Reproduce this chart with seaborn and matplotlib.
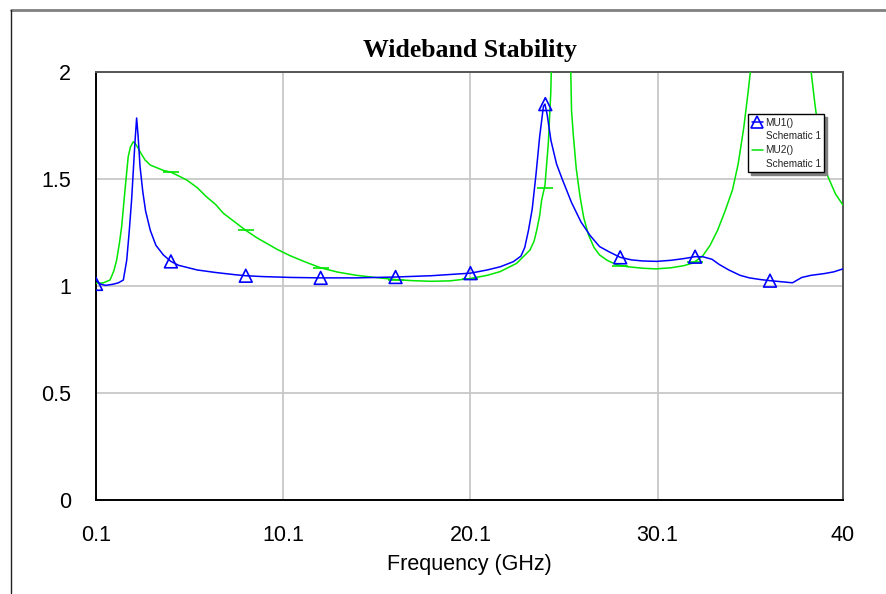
import matplotlib
matplotlib.use("Agg")
import matplotlib.pyplot as plt
from matplotlib.lines import Line2D
import pandas as pd
import seaborn as sns

# ---- sweep data (GHz, stability factor) ----
mu1_freq = [0.1, 0.3, 0.6, 1.0, 1.3, 1.56, 1.74, 1.87, 2.0, 2.1, 2.18, 2.27, 2.35,
            2.45, 2.6, 2.75, 3.0, 3.3, 3.7, 4.1, 4.5, 5.5, 6.5, 7.5, 8.1, 9.0, 10.5,
            12.1, 14.0, 16.1, 18.0, 20.1, 21.0, 21.7, 22.4, 22.8, 23.0, 23.2, 23.4,
            23.6, 23.8, 24.0, 24.08, 24.2, 24.4, 24.7, 25.0, 25.5, 26.0, 26.5, 27.0,
            27.5, 28.1, 28.7, 29.3, 30.05, 30.8, 31.5, 32.1, 32.5, 33.0, 33.4, 33.9,
            34.5, 35.0, 35.6, 36.1, 36.7, 37.3, 37.5, 37.8, 38.3, 39.0, 39.5, 40.0]
mu1_vals = [1.03, 1.01, 1.003, 1.008, 1.015, 1.028, 1.12, 1.25, 1.40, 1.55, 1.67,
            1.785, 1.70, 1.56, 1.44, 1.35, 1.26, 1.19, 1.145, 1.115, 1.097, 1.075,
            1.063, 1.053, 1.048, 1.044, 1.04, 1.038, 1.038, 1.042, 1.048, 1.06, 1.075,
            1.09, 1.114, 1.14, 1.18, 1.26, 1.36, 1.52, 1.70, 1.84, 1.85, 1.80, 1.68,
            1.57, 1.50, 1.39, 1.30, 1.235, 1.184, 1.16, 1.134, 1.122, 1.117, 1.115,
            1.12, 1.128, 1.137, 1.137, 1.125, 1.10, 1.075, 1.05, 1.038, 1.03, 1.025,
            1.02, 1.015, 1.025, 1.04, 1.05, 1.058, 1.066, 1.08]

mu2_freq = [0.1, 0.5, 0.85, 1.05, 1.2, 1.35, 1.47, 1.65, 1.82, 1.94, 2.09, 2.2, 2.36,
            2.5, 2.72, 3.0, 3.34, 3.7, 4.1, 4.5, 4.95, 5.5, 6.0, 6.5, 6.9, 7.5, 8.1,
            8.7, 9.2, 9.8, 10.46, 11.2, 12.1, 13.0, 14.0, 15.0, 16.1, 17.0, 18.0,
            19.0, 20.1, 21.0, 21.68, 22.57, 23.28, 23.5, 23.64, 23.8, 23.9, 24.08,
            24.26, 24.39, 24.55, 24.95, 25.35, 25.5, 25.6, 25.75, 25.95, 26.15, 26.4,
            26.7, 27.0, 27.4, 27.9, 28.5, 29.3, 30.0, 30.8, 31.5, 32.0, 32.5, 32.9,
            33.3, 33.7, 34.1, 34.4, 34.7, 34.95, 35.3, 36.7, 38.15, 38.3, 38.5, 38.7,
            38.9, 39.2, 39.6, 40.0]
mu2_vals = [1.012, 1.015, 1.028, 1.07, 1.12, 1.2, 1.277, 1.45, 1.604, 1.65, 1.674,
            1.665, 1.643, 1.62, 1.589, 1.565, 1.553, 1.54, 1.532, 1.515, 1.495, 1.46,
            1.417, 1.38, 1.34, 1.30, 1.26, 1.225, 1.2, 1.17, 1.142, 1.115, 1.085,
            1.065, 1.05, 1.04, 1.03, 1.025, 1.022, 1.024, 1.035, 1.05, 1.067, 1.106,
            1.168, 1.21, 1.26, 1.33, 1.40, 1.47, 1.667, 1.9, 2.5, 4.0, 2.5, 1.82, 1.70,
            1.55, 1.42, 1.32, 1.24, 1.18, 1.145, 1.12, 1.10, 1.09, 1.083, 1.08, 1.085,
            1.095, 1.108, 1.14, 1.19, 1.26, 1.35, 1.45, 1.57, 1.74, 1.92, 2.2, 3.5,
            2.2, 2.0, 1.85, 1.72, 1.61, 1.51, 1.43, 1.378]

# marker positions along each trace
mu1_mark_freq = [0.1, 4.1, 8.1, 12.1, 16.1, 20.1, 24.1, 28.1, 32.1, 36.1]
mu1_mark_vals = [1.01, 1.115, 1.048, 1.038, 1.042, 1.06, 1.85, 1.134, 1.137, 1.025]
mu2_mark_freq = [4.1, 8.1, 12.1, 16.1, 20.1, 24.1, 28.1, 32.1]
mu2_mark_vals = [1.532, 1.26, 1.085, 1.03, 1.035, 1.46, 1.092, 1.114]

x_ticks = [0.1, 10.1, 20.1, 30.1, 40]
x_tick_labels = ["0.1", "10.1", "20.1", "30.1", "40"]
y_ticks = [0, 0.5, 1, 1.5, 2]
y_tick_labels = ["0", "0.5", "1", "1.5", "2"]

BLUE = "#0000ff"
GREEN = "#00e600"

sns.set_theme(style="white")
plt.rcParams["font.family"] = ["Liberation Sans", "DejaVu Sans"]

fig = plt.figure(figsize=(8.86, 5.94), dpi=100)
ax = fig.add_axes([96 / 886, 94 / 594, (843 - 96) / 886, (500 - 72) / 594])

mu1 = pd.DataFrame({"f": mu1_freq, "mu": mu1_vals})
mu2 = pd.DataFrame({"f": mu2_freq, "mu": mu2_vals})
mk1 = pd.DataFrame({"f": mu1_mark_freq, "mu": mu1_mark_vals})
mk2 = pd.DataFrame({"f": mu2_mark_freq, "mu": mu2_mark_vals})

sns.lineplot(data=mu2, x="f", y="mu", ax=ax, color=GREEN, lw=1.1, sort=False,
             estimator=None, zorder=3)
sns.lineplot(data=mu1, x="f", y="mu", ax=ax, color=BLUE, lw=1.1, sort=False,
             estimator=None, zorder=4)
sns.scatterplot(data=mk2, x="f", y="mu", ax=ax, marker="_", s=130, color=GREEN,
                linewidth=1.2, zorder=5)
sns.scatterplot(data=mk1, x="f", y="mu", ax=ax, marker="^", s=85,
                facecolors="none", edgecolor=BLUE, linewidth=1.2, zorder=6)

ax.set_xlim(0.1, 40)
ax.set_ylim(0, 2)
ax.set_xticks(x_ticks)
ax.set_xticklabels(x_tick_labels)
ax.set_yticks(y_ticks)
ax.set_yticklabels(y_tick_labels)
ax.tick_params(axis="both", length=0, labelsize=15.5, colors="black")
ax.tick_params(axis="x", pad=18)
ax.tick_params(axis="y", pad=18)
ax.grid(True, color="#c4c4c4", lw=1.2)
ax.set_axisbelow(True)

ax.set_xlabel("Frequency (GHz)", fontsize=15.5, color="black", labelpad=6)
ax.set_ylabel("")
ax.set_title("Wideband Stability", fontsize=18.5, fontweight="bold",
             family=["Liberation Serif", "DejaVu Serif"], color="black", pad=11)

for side in ("left", "bottom"):
    ax.spines[side].set_color("black")
    ax.spines[side].set_linewidth(1.4)
for side in ("top", "right"):
    ax.spines[side].set_color("#555555")
    ax.spines[side].set_linewidth(1.4)

# legend with trace name and source on separate rows
blank = Line2D([], [], linestyle="none")
handles = [
    Line2D([], [], color=BLUE, lw=1.1, marker="^", mfc="none", mec=BLUE, ms=8, mew=1.2),
    blank,
    Line2D([], [], color=GREEN, lw=1.1),
    blank,
]
labels = ["MU1()", "Schematic 1", "MU2()", "Schematic 1"]
leg = ax.legend(handles, labels, loc="upper left",
                bbox_to_anchor=(748 / 886, 1 - 114 / 594),
                bbox_transform=fig.transFigure, borderaxespad=0,
                fontsize=7.2, frameon=True, fancybox=False, framealpha=1,
                edgecolor="black", handlelength=1.15, handletextpad=0.25,
                labelspacing=0.38, borderpad=0.35,
                shadow={"color": "#808080", "alpha": 1})
leg.get_frame().set_linewidth(1.0)
for t in leg.get_texts():
    t.set_color("#222222")

# page frame
fig.add_artist(Line2D([11 / 886, 1], [1 - 10 / 594, 1 - 10 / 594],
                      transform=fig.transFigure, color="#808080", lw=2))
fig.add_artist(Line2D([11 / 886, 11 / 886], [1 - 10 / 594, 1 - 593 / 594],
                      transform=fig.transFigure, color="#222222", lw=1))

fig.savefig("out.png", dpi=100)
